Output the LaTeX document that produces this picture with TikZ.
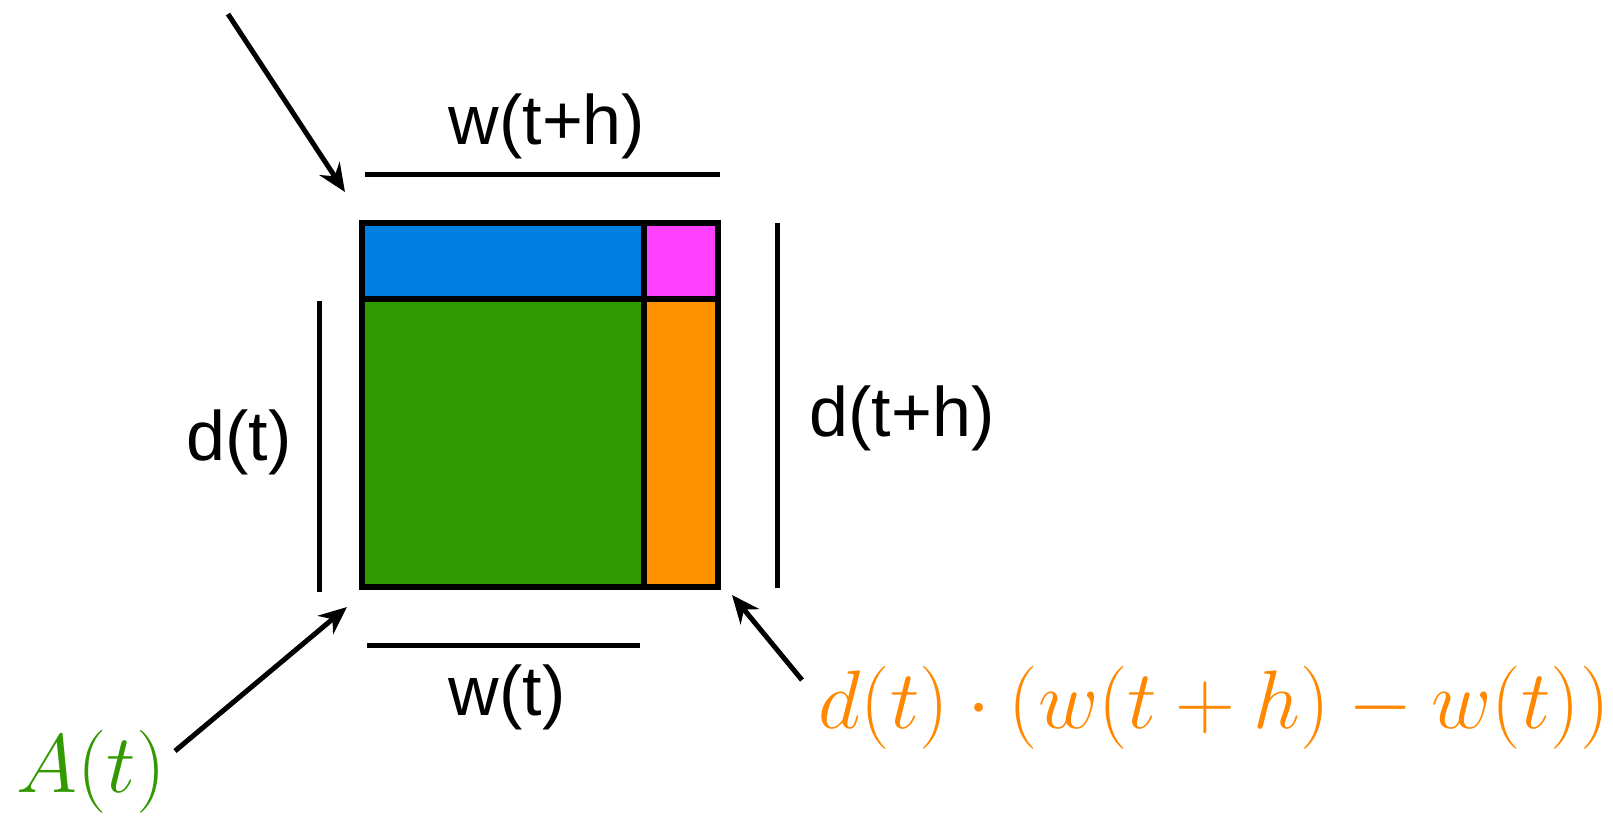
\documentclass[tikz,border=0pt]{standalone}
\usepackage{fix-cm}
\usepackage{fontspec}
\setsansfont{Liberation Sans}
\usetikzlibrary{arrows.meta}

\definecolor{areablue}{HTML}{007FE3}
\definecolor{areapink}{HTML}{FF40FF}
\definecolor{areagreen}{HTML}{2E9B00}
\definecolor{areaorange}{HTML}{FF9200}
\definecolor{textgreen}{HTML}{339900}
\definecolor{textorange}{HTML}{FF8800}

\tikzset{
  piece/.style={draw=black, line width=2.8pt},
  dimlabel/.style={font=\sffamily\fontsize{35}{42}\selectfont, inner sep=0pt},
  mathlabel/.style={font=\fontsize{41.5}{50}\selectfont, inner sep=0pt},
}

\begin{document}
\begin{tikzpicture}[x=0.5pt, y=-0.5pt, line width=2.5pt, >={Stealth[length=14pt,width=12pt]}]
        \useasboundingbox (0,0) rectangle (1613,821);
        % area pieces
        \filldraw[piece, fill=areablue] (362,223) rectangle (644,299);
        \filldraw[piece, fill=areapink] (644,223) rectangle (718,299);
        \filldraw[piece, fill=areagreen] (362,299) rectangle (644,587);
        \filldraw[piece, fill=areaorange] (644,299) rectangle (718,587);
        % dimension bars
        \draw (365,174) -- (720,174);
        \draw (319,301) -- (319,592);
        \draw (777,223) -- (777,588);
        \draw (367,645) -- (640,645);
        \node[dimlabel] (wth) at (547,126) {w(t+h)};
        \node[dimlabel] (dt) at (239,442) {d(t)};
        \node[dimlabel] (dth) at (902,418) {d(t+h)};
        \node[dimlabel] (wt) at (507,697) {w(t)};
        \node[mathlabel, textgreen] (At) at (91,772) {$A(t)$};
        \node[mathlabel, textorange] (strip) at (1214,708) {$d(t)\cdot(w(t+h)-w(t))$};
        % pointers
        \coordinate (toptail) at (228,14);
        \coordinate (toptip) at (345,192);
        \coordinate (Atail) at (175,751);
        \coordinate (Atip) at (347,607);
        \coordinate (striptail) at (802,680);
        \coordinate (striptip) at (732,595);
        \draw[->] (toptail) -- (toptip);
        \draw[->] (Atail) -- (Atip);
        \draw[->] (striptail) -- (striptip);
\end{tikzpicture}
\end{document}
